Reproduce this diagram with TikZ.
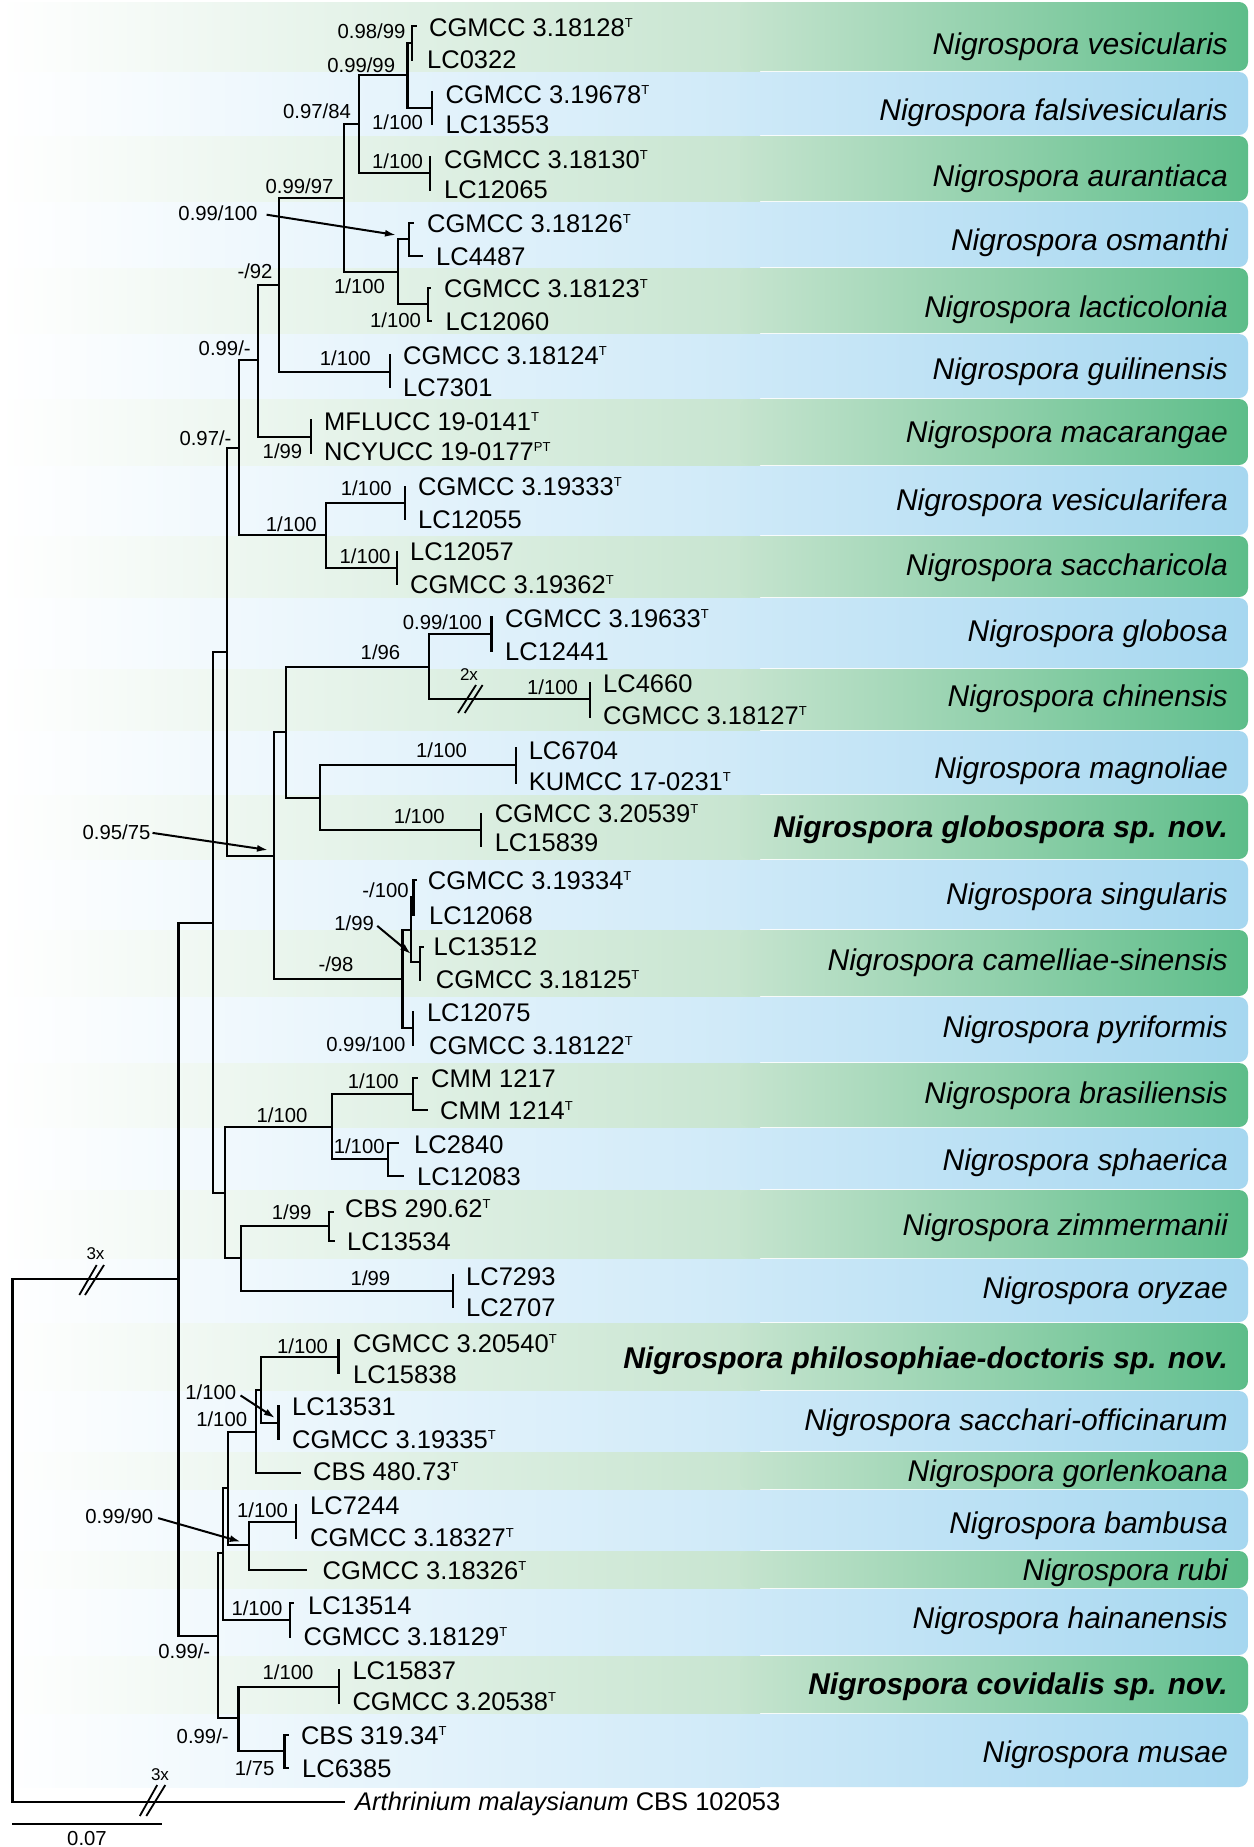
\documentclass[tikz,border=0pt]{standalone}
\usepackage{fontspec}
\setmainfont{Liberation Sans}
\usetikzlibrary{arrows.meta}
\definecolor{gL}{RGB}{198,228,207}
\definecolor{gD}{RGB}{93,189,137}
\definecolor{bL}{RGB}{206,233,248}
\definecolor{bD}{RGB}{166,215,240}
\newcommand{\tsup}[1]{\raisebox{9pt}{\fontsize{13}{13}\selectfont #1}}
\begin{document}
\begin{tikzpicture}[x=1pt,y=-1pt,
  br/.style={line width=2.3pt, line cap=rect, line join=miter},
  strain/.style={anchor=west, inner sep=0pt, text height=18.2pt, text depth=0pt, font=\fontsize{25.5}{30}\selectfont},
  spec/.style={anchor=east, inner sep=0pt, text height=21.5pt, text depth=0pt, font=\fontsize{30}{36}\selectfont\itshape},
  supp/.style={inner sep=0pt, text height=14.5pt, text depth=0pt, font=\fontsize{20.3}{23}\selectfont},
  smalllab/.style={inner sep=0pt, text height=12pt, text depth=0pt, font=\fontsize{17}{20}\selectfont},
  arr/.style={line width=2pt, -{Latex[length=11pt,width=7pt]}},
  brk/.style={line width=1.8pt}]
\fill[white] (0,0) rectangle (1253,1847);
\useasboundingbox (0,0) rectangle (1253,1847);

% coloured bands with species names
\foreach \n/\t/\b/\cl/\cd/\yc/\lab in {
 1/2/71/gL/gD/44/{Nigrospora vesicularis},
 2/72/135/bL/bD/110/{Nigrospora falsivesicularis},
 3/136/201/gL/gD/176/{Nigrospora aurantiaca},
 4/202/267/bL/bD/240/{Nigrospora osmanthi},
 5/268/333/gL/gD/307/{Nigrospora lacticolonia},
 6/334/398/bL/bD/369/{Nigrospora guilinensis},
 7/399/465/gL/gD/432/{Nigrospora macarangae},
 8/466/535/bL/bD/500/{Nigrospora vesicularifera},
 9/536/597/gL/gD/565/{Nigrospora saccharicola},
 10/598/668/bL/bD/631/{Nigrospora globosa},
 11/669/730/gL/gD/696/{Nigrospora chinensis},
 12/731/794/bL/bD/768/{Nigrospora magnoliae},
 13/795/859/gL/gD/827/{\bfseries Nigrospora globospora sp. nov.},
 14/860/929/bL/bD/894/{Nigrospora singularis},
 15/930/996/gL/gD/960/{Nigrospora camelliae-sinensis},
 16/997/1062/bL/bD/1027/{Nigrospora pyriformis},
 17/1063/1127/gL/gD/1093/{Nigrospora brasiliensis},
 18/1128/1189/bL/bD/1160/{Nigrospora sphaerica},
 19/1190/1258/gL/gD/1225/{Nigrospora zimmermanii},
 20/1259/1322/bL/bD/1288/{Nigrospora oryzae},
 21/1323/1390/gL/gD/1358/{\bfseries Nigrospora philosophiae-doctoris sp. nov.},
 22/1391/1451/bL/bD/1420/{Nigrospora sacchari-officinarum},
 23/1452/1489/gL/gD/1471/{Nigrospora gorlenkoana},
 24/1490/1550/bL/bD/1523/{Nigrospora bambusa},
 25/1551/1588/gL/gD/1570/{Nigrospora rubi},
 26/1589/1655/bL/bD/1618/{Nigrospora hainanensis},
 27/1656/1713/gL/gD/1684/{\bfseries Nigrospora covidalis sp. nov.},
 28/1714/1787/bL/bD/1752/{Nigrospora musae}}
{
  \shade[left color=white, right color=\cl] (0,\t) rectangle (760,\b);
  \shade[left color=\cl, right color=\cd, rounded corners=9pt] (740,\t) rectangle (1248,\b);
  \node[spec] (sp\n) at (1228,\yc) {\lab};
}

% internal nodes
\coordinate (R) at (12.5,1540);
\coordinate (I) at (178.5,1279.3);
\coordinate (U) at (213.3,922.7);
\coordinate (Ua) at (227.3,651.7);
\coordinate (Ub) at (225,1193.3);
\coordinate (n97) at (239.3,448.3);
\coordinate (n99m) at (258.3,360);
\coordinate (n92) at (279.3,285);
\coordinate (n9997) at (344,198);
\coordinate (n9784) at (359,124);
\coordinate (n9999) at (407.6,75);
\coordinate (VES) at (412,43);
\coordinate (FAL) at (432,108);
\coordinate (AUR) at (430,173);
\coordinate (OL) at (397.8,272);
\coordinate (OSM) at (409,239);
\coordinate (LAC) at (427.7,304);
\coordinate (GUI) at (390,371.7);
\coordinate (MAC) at (310.7,436.7);
\coordinate (VS) at (326,535);
\coordinate (VCF) at (405,502.7);
\coordinate (SAC) at (396.7,568.3);
\coordinate (n95) at (274.3,855.7);
\coordinate (GC) at (285.7,732.3);
\coordinate (n196) at (429.3,666.7);
\coordinate (GLO) at (491.5,634);
\coordinate (CHI) at (589.7,699.3);
\coordinate (MG) at (320,798.3);
\coordinate (MAG) at (516,765);
\coordinate (GSP) at (481,830);
\coordinate (n98) at (402.5,979);
\coordinate (n199) at (411.2,930);
\coordinate (SIN) at (413.4,897);
\coordinate (CAM) at (420,961.7);
\coordinate (PYR) at (413.3,1028.3);
\coordinate (BS) at (331.7,1126.7);
\coordinate (BRA) at (412.7,1094);
\coordinate (SPH) at (388.3,1159.3);
\coordinate (ZO) at (241,1258.3);
\coordinate (ZIM) at (329.3,1226);
\coordinate (ORY) at (452.7,1291);
\coordinate (L) at (218,1636);
\coordinate (A) at (223,1553);
\coordinate (B) at (228.3,1488);
\coordinate (PS) at (256.3,1431.7);
\coordinate (PSS) at (260.7,1390);
\coordinate (PHI) at (338.4,1356.7);
\coordinate (SAO) at (278.6,1423.3);
\coordinate (BR) at (249.3,1545);
\coordinate (BAM) at (296,1521.7);
\coordinate (HAI) at (290,1620);
\coordinate (CM) at (238.5,1718.3);
\coordinate (COV) at (338.8,1686.7);
\coordinate (MUS) at (284.6,1750.7);

\foreach \p/\c in {R/I, I/U, I/L, U/Ua, U/Ub, Ua/n97, Ua/n95, n97/n99m, n97/VS,
  n99m/n92, n99m/MAC, n92/n9997, n92/GUI, n9997/n9784, n9997/OL, n9784/n9999,
  n9784/AUR, n9999/VES, n9999/FAL, OL/OSM, OL/LAC, VS/VCF, VS/SAC, n95/GC,
  n95/n98, GC/n196, GC/MG, n196/GLO, n196/CHI, MG/MAG, MG/GSP, n98/n199,
  n98/PYR, n199/SIN, n199/CAM, Ub/BS, Ub/ZO, BS/BRA, BS/SPH, ZO/ZIM, ZO/ORY,
  L/A, L/CM, A/B, A/HAI, B/PS, B/BR, PS/PSS, PSS/PHI, PSS/SAO, BR/BAM,
  CM/COV, CM/MUS}
  \draw[br] (\p) |- (\c);

% tips and strain labels
\foreach \n/\p/\x/\y/\tx/\ty/\txt in {
 1/VES/416/26/429/27/{CGMCC 3.18128\tsup{T}},
 2/VES/412/60/427/59/{LC0322},
 3/FAL/432/92/445.5/94/{CGMCC 3.19678\tsup{T}},
 4/FAL/432/124/445.5/124/{LC13553},
 5/AUR/430/157/444/159/{CGMCC 3.18130\tsup{T}},
 6/AUR/430/190/444/189/{LC12065},
 7/OSM/413/223/427/223/{CGMCC 3.18126\tsup{T}},
 8/OSM/422/256/436/256/{LC4487},
 9/LAC/430/288/444/288/{CGMCC 3.18123\tsup{T}},
 10/LAC/431/321/445.5/321/{LC12060},
 11/GUI/390/355/403/355/{CGMCC 3.18124\tsup{T}},
 12/GUI/390/387/403/387/{LC7301},
 13/MAC/310.7/420/324/421.7/{MFLUCC 19-0141\tsup{T}},
 14/MAC/310.7/453/324/451.7/{NCYUCC 19-0177\tsup{PT}},
 15/VCF/405/486.7/418/486.7/{CGMCC 3.19333\tsup{T}},
 16/VCF/405/519/418/519/{LC12055},
 17/SAC/396.7/551.7/410/551.7/{LC12057},
 18/SAC/396.7/584/410/584/{CGMCC 3.19362\tsup{T}},
 19/GLO/491.5/617/505/618/{CGMCC 3.19633\tsup{T}},
 20/GLO/491.5/651/505/651.7/{LC12441},
 21/CHI/589.7/683/603/683.3/{LC4660},
 22/CHI/589.7/716.7/603/715/{CGMCC 3.18127\tsup{T}},
 23/MAG/516/748/528.6/750/{LC6704},
 24/MAG/516/782.7/528.6/781.7/{KUMCC 17-0231\tsup{T}},
 25/GSP/481/814/494.6/813.3/{CGMCC 3.20539\tsup{T}},
 26/GSP/481/846/494.6/842.7/{LC15839},
 27/SIN/416/880/427.7/880/{CGMCC 3.19334\tsup{T}},
 28/SIN/413.4/915/429/915/{LC12068},
 29/CAM/423/946.7/433.5/946.7/{LC13512},
 30/CAM/420/980/435.7/979.3/{CGMCC 3.18125\tsup{T}},
 31/PYR/413.3/1011.7/426.8/1012.7/{LC12075},
 32/PYR/413.3/1045/429/1045/{CGMCC 3.18122\tsup{T}},
 33/BRA/416.7/1078.3/431/1078.3/{CMM 1217},
 34/BRA/426.7/1110/440/1110.7/{CMM 1214\tsup{T}},
 35/SPH/397.8/1143.3/414/1144/{LC2840},
 36/SPH/403/1175.7/417/1176.7/{LC12083},
 37/ZIM/333/1211.7/345/1208/{CBS 290.62\tsup{T}},
 38/ZIM/333.5/1240.7/347/1241.7/{LC13534},
 39/ORY/452.7/1275/466/1276/{LC7293},
 40/ORY/452.7/1307.3/466/1307.3/{LC2707},
 41/PHI/338.4/1340/353/1343.3/{CGMCC 3.20540\tsup{T}},
 42/PHI/338.4/1373.3/353/1374/{LC15838},
 43/SAO/278.6/1406/292/1406/{LC13531},
 44/SAO/278.6/1439.3/292/1439.3/{CGMCC 3.19335\tsup{T}},
 45/PS/299.6/1472.7/313/1471.7/{CBS 480.73\tsup{T}},
 46/BAM/296/1505/310/1505/{LC7244},
 47/BAM/296/1538.3/310/1537.3/{CGMCC 3.18327\tsup{T}},
 48/BR/306.2/1570/322.5/1570/{CGMCC 3.18326\tsup{T}},
 49/HAI/293/1603.3/307.9/1605/{LC13514},
 50/HAI/290/1636.7/303.5/1636/{CGMCC 3.18129\tsup{T}},
 51/COV/338.8/1670/352.3/1670/{LC15837},
 52/COV/338.8/1702.7/352.3/1701.7/{CGMCC 3.20538\tsup{T}},
 53/MUS/288/1735/300.8/1735/{CBS 319.34\tsup{T}},
 54/MUS/288/1768.3/302/1768.3/{LC6385},
 55/R/344/1801.7/355/1801.7/{\textit{Arthrinium malaysianum} CBS 102053}}
{
  \coordinate (t\n) at (\x,\y);
  \draw[br] (\p) |- (t\n);
  \node[strain] (s\n) at (\tx,\ty) {\txt};
}

% branch breaks
\draw[brk] (79.3,1295) -- (96.7,1265);
\draw[brk] (85,1295) -- (104,1265);
\draw[brk] (139.8,1816) -- (157.2,1785);
\draw[brk] (146.3,1816) -- (165.3,1785);
\draw[brk] (458,713) -- (476,685);
\draw[brk] (464.7,713) -- (482.6,685);
\node[smalllab] (x1) at (95.5,1253.3) {3x};
\node[smalllab] (x2) at (160,1774) {3x};
\node[smalllab] (x3) at (469,674) {2x};

% support values
\node[supp] (l1) at (371.5,31.3) {0.98/99};
\node[supp] (l2) at (361.2,65) {0.99/99};
\node[supp] (l3) at (317,111.7) {0.97/84};
\node[supp] (l4) at (397.5,122.7) {1/100};
\node[supp] (l5) at (397.5,161.7) {1/100};
\node[supp] (l6) at (299.5,186) {0.99/97};
\node[supp] (l7) at (218,213.3) {0.99/100};
\node[supp] (l8) at (255,271.7) {-/92};
\node[supp] (l9) at (359.5,286.7) {1/100};
\node[supp] (l10) at (395.5,320) {1/100};
\node[supp] (l11) at (224.7,348.3) {0.99/-};
\node[supp] (l12) at (345.3,358.3) {1/100};
\node[supp] (l13) at (205.5,438.3) {0.97/-};
\node[supp] (l14) at (282.5,451.7) {1/99};
\node[supp] (l15) at (366.2,488.3) {1/100};
\node[supp] (l16) at (291.3,524) {1/100};
\node[supp] (l17) at (365,556) {1/100};
\node[supp] (l18) at (442.4,622.7) {0.99/100};
\node[supp] (l19) at (380.5,652.7) {1/96};
\node[supp] (l21) at (552.5,687.3) {1/100};
\node[supp] (l22) at (441.5,750.7) {1/100};
\node[supp] (l23) at (419.2,816.7) {1/100};
\node[supp] (l24) at (116.5,832.6) {0.95/75};
\node[supp] (l25) at (385.5,890.7) {-/100};
\node[supp] (l26) at (354.2,923.3) {1/99};
\node[supp] (l27) at (336,964) {-/98};
\node[supp] (l28) at (365.8,1044) {0.99/100};
\node[supp] (l29) at (373.3,1081.7) {1/100};
\node[supp] (l30) at (282,1115) {1/100};
\node[supp] (l31) at (359.2,1146.7) {1/100};
\node[supp] (l32) at (291.7,1212.7) {1/99};
\node[supp] (l33) at (370.5,1278.3) {1/99};
\node[supp] (l35) at (302.5,1346) {1/100};
\node[supp] (l36) at (210.8,1392.7) {1/100};
\node[supp] (l37) at (221.7,1419.3) {1/100};
\node[supp] (l38) at (119.3,1516.7) {0.99/90};
\node[supp] (l39) at (262.5,1510) {1/100};
\node[supp] (l40) at (256.9,1608.3) {1/100};
\node[supp] (l41) at (184.3,1651.7) {0.99/-};
\node[supp] (l42) at (288.1,1672.7) {1/100};
\node[supp] (l43) at (202.7,1736.7) {0.99/-};
\node[supp] (l44) at (254.7,1768.3) {1/75};

% arrows from support values to their nodes
\coordinate (a1) at (396,235);
\coordinate (a2) at (268,850);
\coordinate (a3) at (411,954);
\coordinate (a4) at (275,1418);
\coordinate (a5) at (240.7,1541.7);
\draw[arr, shorten <=9pt] (l7.east) -- (a1);
\draw[arr, shorten <=2pt] (l24.east) -- (a2);
\draw[arr, shorten <=4pt] (l26.east) -- (a3);
\draw[arr, shorten <=5pt] (l36.east) -- (a4);
\draw[arr, shorten <=5pt] (l38.east) -- (a5);

% scale bar
\coordinate (sb1) at (12,1824);
\coordinate (sb2) at (161.5,1824);
\draw[line width=2.3pt] (sb1) -- (sb2);
\node[supp] (sbl) at (87,1838) {0.07};
\end{tikzpicture}
\end{document}
